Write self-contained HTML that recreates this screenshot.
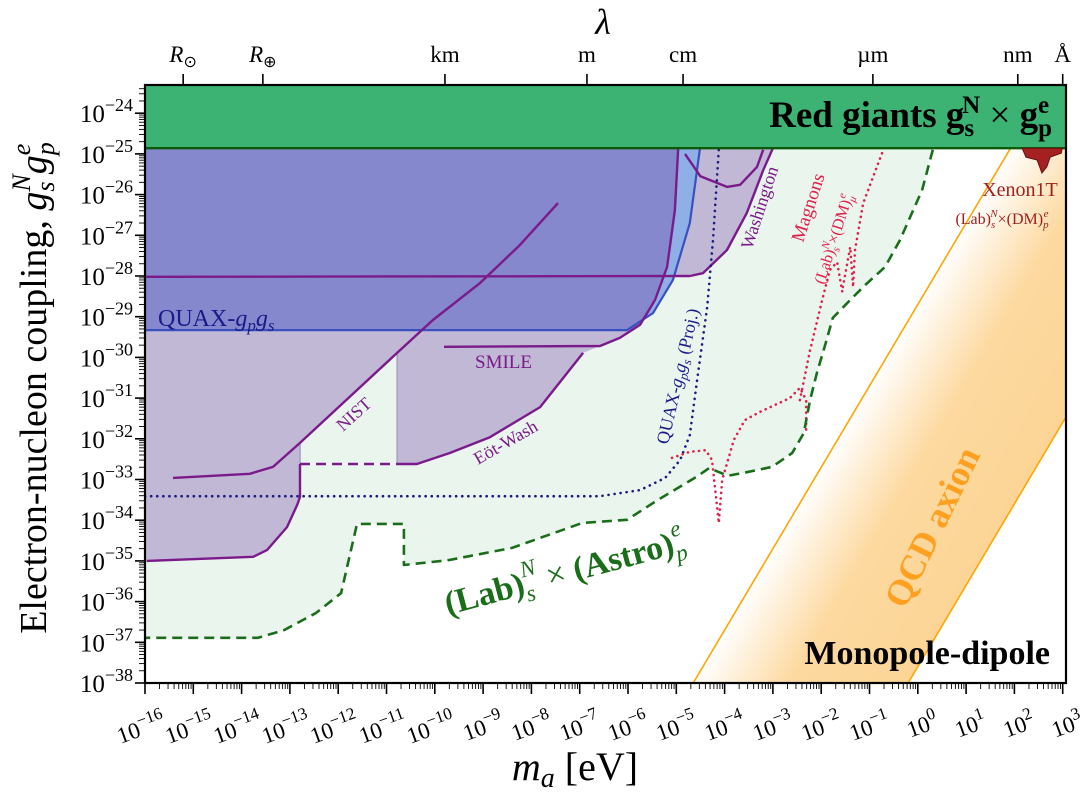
<!DOCTYPE html>
<html><head><meta charset="utf-8"><style>
html,body{margin:0;padding:0;background:#fff;}
svg{display:block;font-family:"Liberation Serif",serif;}
</style></head><body>
<svg id="chart" width="1081" height="797" viewBox="0 0 1081 797" xmlns="http://www.w3.org/2000/svg">
<defs>
<clipPath id="plotclip"><rect x="145" y="85" width="921" height="598"/></clipPath>
<linearGradient id="qcdgrad" gradientUnits="userSpaceOnUse" x1="693" y1="683" x2="852" y2="777">
<stop offset="0" stop-color="#fdd9a0" stop-opacity="0"/>
<stop offset="0.45" stop-color="#fdd9a0" stop-opacity="1"/>
<stop offset="1" stop-color="#fcd596" stop-opacity="1"/>
</linearGradient>
</defs>
<g id="plot" clip-path="url(#plotclip)"></g>
<g id="axes"></g>
<g id="labels"></g>
</svg>
<script>
// ---- data (log10 m_a [eV], log10 g) ----
const labAstro = [[0.31,-24.90],[0.09,-25.89],[-0.12,-26.45],[-0.37,-27.12],[-0.68,-27.78],[-1.09,-28.22],[-1.40,-28.59],[-1.76,-29.03],[-1.92,-29.70],[-2.09,-30.38],[-2.23,-31.05],[-2.36,-31.86],[-2.60,-32.35],[-3.02,-32.69],[-3.54,-32.82],[-3.93,-32.91],[-4.32,-32.72],[-4.59,-32.94],[-5.38,-33.50],[-6.02,-33.99],[-6.95,-34.07],[-8.40,-34.68],[-9.71,-34.98],[-10.64,-35.10],[-10.64,-34.09],[-11.61,-34.09],[-11.94,-35.79],[-12.46,-36.28],[-13.12,-36.70],[-13.66,-36.89],[-16,-36.89]];
const quaxRegion = [[-16,-24.86],[-4.51,-24.86],[-4.72,-26.70],[-5.07,-28.10],[-5.48,-28.91],[-6.02,-29.33],[-16,-29.33]];
const quaxOverlap = [[-16,-24.86],[-4.96,-24.86],[-5.03,-26.38],[-5.19,-27.78],[-5.44,-28.59],[-5.75,-29.20],[-5.90,-29.33],[-16,-29.33]];
const lavenderA = [[-16,-29.33],[-16,-35.03],[-13.76,-34.90],[-13.47,-34.73],[-13.06,-34.17],[-12.85,-33.63],[-12.79,-33.43],[-12.79,-32.10],[-10.78,-29.89],[-10.20,-29.33]];
const lavenderB = [[-10.20,-29.33],[-5.90,-29.33],[-5.75,-29.20],[-6.17,-29.52],[-6.58,-29.72],[-6.93,-29.89],[-7.82,-31.22],[-8.86,-31.96],[-9.69,-32.35],[-10.37,-32.62],[-10.78,-32.62],[-10.78,-29.89]];
const lavenderC = [[-4.96,-24.86],[-3.00,-24.86],[-3.20,-25.40],[-3.54,-26.45],[-3.95,-27.36],[-4.45,-27.93],[-5.23,-28.02],[-5.19,-27.78],[-5.03,-26.38]];
const nistLine = [[-15.42,-32.96],[-13.83,-32.86],[-13.35,-32.69],[-12.79,-32.10],[-10.78,-29.89],[-10.04,-29.08],[-9.06,-28.17],[-8.24,-27.24],[-7.45,-26.21]];
const bottomLeftLine = [[-15.96,-35.00],[-13.76,-34.90],[-13.47,-34.73],[-13.06,-34.17],[-12.85,-33.63],[-12.79,-33.43],[-12.79,-32.62]];
const dashedPurple = [[-12.79,-32.62],[-10.78,-32.62]];
const eotWash = [[-10.78,-32.62],[-10.37,-32.62],[-9.69,-32.35],[-8.86,-31.96],[-7.82,-31.22],[-6.93,-29.89]];
const smileLine = [[-9.81,-29.74],[-6.58,-29.72],[-6.17,-29.52],[-5.75,-29.20],[-5.44,-28.59],[-5.19,-27.78],[-5.03,-26.38],[-4.96,-24.86]];
const washingtonLine = [[-16,-28.02],[-4.72,-28.00],[-4.45,-27.93],[-3.95,-27.36],[-3.54,-26.45],[-3.20,-25.40],[-3.00,-24.86]];
const washingtonArc = [[-4.82,-25.00],[-4.50,-25.55],[-3.95,-25.81],[-3.68,-25.76],[-3.33,-25.32],[-3.20,-24.90]];
const quaxProj = [[-16,-33.41],[-6.58,-33.41],[-5.75,-33.26],[-5.23,-32.96],[-4.92,-32.52],[-4.72,-31.91],[-4.57,-30.56],[-4.36,-28.76],[-4.24,-27.12],[-4.12,-24.90]];
const magnon1 = [[-5.09,-32.47],[-4.72,-32.32],[-4.39,-32.28],[-4.26,-32.52],[-4.12,-34.07],[-4.05,-33.01],[-3.81,-32.03],[-3.58,-31.54],[-3.27,-31.34],[-2.65,-31.00],[-2.44,-30.75],[-2.31,-31.05],[-2.31,-31.86]];
const magnon2 = [[-2.44,-31.05],[-2.23,-29.82],[-1.98,-28.59],[-1.82,-27.85],[-1.67,-27.66],[-1.55,-28.47]];
const magnon3 = [[-1.55,-28.27],[-1.40,-27.29],[-1.34,-28.27],[-1.30,-27.36],[-1.13,-26.21],[-0.74,-24.98]];
const xenon = [[2.16,-24.86],[2.24,-25.08],[2.47,-25.15],[2.57,-25.47],[2.67,-25.32],[2.74,-25.08],[2.97,-24.98],[2.99,-24.86]];
const redGiantLimit = -24.86;
const qcdSlope = 2;
const qcdIntercepts = [-28.7, -37.6];
const xTickExps = [-16,-15,-14,-13,-12,-11,-10,-9,-8,-7,-6,-5,-4,-3,-2,-1,0,1,2,3];
const yTickExps = [-38,-37,-36,-35,-34,-33,-32,-31,-30,-29,-28,-27,-26,-25,-24];
const lambdaLabels = ["R⊙","R⊕","km","m","cm","µm","nm","Å"];
const lambdaLogMass = [-15.21,-13.56,-9.79,-6.85,-4.86,-0.93,2.07,3.0];

// ---- scales ----
const X0=145,X1=1066,Y0=683,YT=85;
function X(l){return 145+(l+16)*48.3;}
function Y(l){return 683-(l+38)*40.7;}
function lmOfX(x){return (x-145)/48.3-16;}
function lgOfY(y){return (683-y)/40.7-38;}
const NS="http://www.w3.org/2000/svg";
function mk(tag,attrs,parent){const e=document.createElementNS(NS,tag);for(const k in attrs)e.setAttribute(k,attrs[k]);parent.appendChild(e);return e;}
function pts(arr){return arr.map(p=>X(p[0]).toFixed(1)+","+Y(p[1]).toFixed(1)).join(" ");}
const plot=document.getElementById("plot"),axes=document.getElementById("axes");
const topL=lgOfY(YT-5);

let e;
e=mk("polygon",{points:pts([[-16,topL],[labAstro[0][0],topL]].concat(labAstro)),fill:"#eaf5ee"},plot);



{
  const lRight=lmOfX(X1);
  const a=qcdIntercepts[0], b=qcdIntercepts[1];
  const l1bot=(-38-a)/qcdSlope, l1top=(redGiantLimit-a)/qcdSlope;
  const l2bot=(-38-b)/qcdSlope, l2right=qcdSlope*lRight+b;
  e=mk("polygon",{points:pts([[l1bot,-38],[l1top,redGiantLimit],[lRight,redGiantLimit],[lRight,l2right],[l2bot,-38]]),fill:"url(#qcdgrad)"},plot);
  
  
  for(let i=0;i<qcdIntercepts.length;i++){
    const c=qcdIntercepts[i];
    const lb=(-38-c)/qcdSlope, lt=(redGiantLimit-c)/qcdSlope;
    e=mk("line",{x1:X(lb),y1:Y(-38),x2:X(lt),y2:Y(redGiantLimit),stroke:"#ffa500","stroke-width":1.6},plot);
    
    
  }
}

for(const reg of [lavenderA,lavenderB,lavenderC]){
  e=mk("polygon",{points:pts(reg),fill:"#c0b8d4"},plot);
  
  
}
e=mk("polygon",{points:pts(quaxRegion),fill:"#8fb0e6"},plot);


e=mk("polygon",{points:pts(quaxOverlap),fill:"#8588cc"},plot);


e=mk("polyline",{points:pts(quaxRegion.slice(1,7)),fill:"none",stroke:"#3a4fc0","stroke-width":2.2},plot);



e=mk("line",{x1:X(-12.79),y1:Y(-32.10),x2:X(-12.79),y2:Y(-33.43),stroke:"#a99ccb","stroke-width":1.5},plot);


e=mk("line",{x1:X(-10.78),y1:Y(-29.89),x2:X(-10.78),y2:Y(-32.62),stroke:"#a99ccb","stroke-width":1.5},plot);



function line(arr,stroke,w,dash){
  const el=mk("polyline",{points:pts(arr),fill:"none",stroke:stroke,"stroke-width":w,"stroke-linejoin":"round"},plot);
  if(dash){el.setAttribute("stroke-dasharray",dash);el.setAttribute("stroke-linecap",dash.startsWith("0")?"round":"butt");}
  return el;
}
const PUR="#7b1a8a";
e=line(nistLine,PUR,2.4);


e=line(bottomLeftLine,PUR,2.4);


e=line(dashedPurple,PUR,2.4,"10 6");


e=line(eotWash,PUR,2.4);


e=line(smileLine,PUR,2.4);


e=line(washingtonLine,PUR,2.4);


e=line(washingtonArc,PUR,2.4);


e=line(quaxProj,"#1a1a80",2.6,"0.1 6");


for(const m of [magnon1,magnon2,magnon3]){
  e=line(m,"#e0204a",2.6,"0.1 5.5");
  
  
}
e=line(labAstro,"#1a6e1a",2.6,"10 6");



e=mk("rect",{x:X0,y:YT-5,width:X1-X0,height:Y(redGiantLimit)-YT+5,fill:"#3db373"},plot);


e=mk("line",{x1:X0,y1:Y(redGiantLimit),x2:X1,y2:Y(redGiantLimit),stroke:"#0a5a0a","stroke-width":2.4},plot);


e=mk("polygon",{points:pts(xenon),fill:"#a52020",stroke:"#6a1010","stroke-width":1},plot);



// ---- axes ----
e=mk("rect",{x:X0,y:YT,width:X1-X0,height:Y0-YT,fill:"none",stroke:"#000","stroke-width":2.2},axes);


const lg2=[2,3,4,5,6,7,8,9].map(k=>Math.log10(k));
for(const d of xTickExps){
  e=mk("line",{x1:X(d),y1:Y0,x2:X(d),y2:Y0+11,stroke:"#000","stroke-width":1.6},axes);
  
  
  if(d<xTickExps[xTickExps.length-1]) for(const f of lg2){
    e=mk("line",{x1:X(d+f),y1:Y0,x2:X(d+f),y2:Y0+6,stroke:"#000","stroke-width":0.9},axes);
    
    
  }
  const t=mk("text",{x:X(d)+22,y:Y0+44,"text-anchor":"end","font-size":23,transform:`rotate(-20 ${X(d)+22} ${Y0+44})`},axes);
  
  
  t.innerHTML=`10<tspan dy="-10" font-size="17">${d<0?"−"+(-d):d}</tspan>`;
}
for(let d=-38; d<=-24; d++){
  e=mk("line",{x1:X0-10,y1:Y(d),x2:X0,y2:Y(d),stroke:"#000","stroke-width":1.6},axes);
  
  
  for(const f of lg2){
    const yy=Y(d+f); if(yy<YT) continue;
    e=mk("line",{x1:X0-6,y1:yy,x2:X0,y2:yy,stroke:"#000","stroke-width":0.9},axes);
    
    
  }
}
for(const d of yTickExps){
  const t=mk("text",{x:X0-12,y:Y(d)+9,"text-anchor":"end","font-size":25},axes);
  
  
  t.innerHTML=`10<tspan dy="-11" font-size="18">−${-d}</tspan>`;
}
for(let i=0;i<lambdaLabels.length;i++){
  const x=X(lambdaLogMass[i]);
  e=mk("line",{x1:x,y1:YT,x2:x,y2:YT-11,stroke:"#000","stroke-width":1.6},axes);
  
  
  const s=lambdaLabels[i];
  const t=mk("text",{x:x,y:YT-23,"text-anchor":"middle","font-size":23},axes);
  
  
  if(s[0]==="R") t.innerHTML=`<tspan font-style="italic">R</tspan><tspan dy="5" font-size="16">${s[1]}</tspan>`;
  else t.textContent=s;
}
</script>
<script>
const L=document.getElementById("labels");
L.innerHTML=`
<text x="603" y="34" font-size="36" font-style="italic" text-anchor="middle">λ</text>
<text x="575" y="780" font-size="40" text-anchor="middle"><tspan font-style="italic">m</tspan><tspan font-style="italic" font-size="28" dy="7">a</tspan><tspan dy="-7"> [eV]</tspan></text>
<text transform="translate(46 388) rotate(-90)" font-size="38" text-anchor="middle">Electron-nucleon coupling, <tspan font-style="italic">g</tspan><tspan font-style="italic" font-size="26" dy="8">s</tspan><tspan font-style="italic" font-size="26" dy="-24" dx="-10">N</tspan><tspan font-style="italic" dy="16">g</tspan><tspan font-style="italic" font-size="26" dy="8">p</tspan><tspan font-style="italic" font-size="26" dy="-24" dx="-13">e</tspan></text>
<text x="1052" y="127" font-size="37" font-weight="bold" text-anchor="end">Red giants g<tspan font-size="25" dy="9">s</tspan><tspan font-size="25" dy="-23" dx="-12">N</tspan><tspan dy="14" font-weight="normal"> × </tspan>g<tspan font-size="25" dy="9">p</tspan><tspan font-size="25" dy="-23" dx="-14">e</tspan></text>
<text x="158" y="326" font-size="24" fill="#1a1a8a">QUAX-<tspan font-style="italic">g</tspan><tspan font-style="italic" font-size="17" dy="5">p</tspan><tspan font-style="italic" dy="-5">g</tspan><tspan font-style="italic" font-size="17" dy="5">s</tspan></text>
<text x="475" y="368" font-size="19" fill="#7b1a8a">SMILE</text>
<text transform="translate(343 432) rotate(-42)" font-size="18" fill="#7b1a8a">NIST</text>
<text transform="translate(478 465) rotate(-30)" font-size="18" fill="#7b1a8a">Eöt-Wash</text>
<text transform="translate(752 250) rotate(-72)" font-size="18" fill="#7b1a8a">Washington</text>
<text transform="translate(668 445) rotate(-77)" font-size="18" fill="#1a1a8a">QUAX-<tspan font-style="italic">g</tspan><tspan font-style="italic" font-size="13" dy="4">p</tspan><tspan font-style="italic" dy="-4">g</tspan><tspan font-style="italic" font-size="13" dy="4">s</tspan><tspan dy="-4"> (Proj.)</tspan></text>
<text transform="translate(803 243) rotate(-72)" font-size="19" fill="#e0204a">Magnons</text>
<text transform="translate(824 285) rotate(-72)" font-size="16" fill="#e0204a">(Lab)<tspan font-style="italic" font-size="11" dy="4">s</tspan><tspan font-style="italic" font-size="11" dy="-11" dx="-5">N</tspan><tspan dy="7">×(DM)</tspan><tspan font-style="italic" font-size="11" dy="4">μ</tspan><tspan font-style="italic" font-size="11" dy="-11" dx="-5">e</tspan></text>
<text x="1020" y="196" font-size="20" fill="#a01f1f" text-anchor="middle">Xenon1T</text>
<text x="1002" y="224" font-size="16" fill="#a01f1f" text-anchor="middle">(Lab)<tspan font-style="italic" font-size="11" dy="4">s</tspan><tspan font-style="italic" font-size="11" dy="-11" dx="-5">N</tspan><tspan dy="7">×(DM)</tspan><tspan font-style="italic" font-size="11" dy="4">p</tspan><tspan font-style="italic" font-size="11" dy="-11" dx="-5">e</tspan></text>
<text transform="translate(905 610) rotate(-64)" font-size="36" font-weight="bold" fill="#ffa020">QCD axion</text>
<text transform="translate(448 615) rotate(-15)" font-size="34" font-weight="bold" fill="#1a6e1a">(Lab)<tspan font-style="italic" font-weight="normal" font-size="23" dy="8">s</tspan><tspan font-style="italic" font-weight="normal" font-size="23" dy="-25" dx="-9">N</tspan><tspan font-weight="normal" dy="17"> × </tspan>(Astro)<tspan font-style="italic" font-weight="normal" font-size="23" dy="8">p</tspan><tspan font-style="italic" font-weight="normal" font-size="23" dy="-25" dx="-11">e</tspan></text>
<text x="1050" y="664" font-size="34" font-weight="bold" text-anchor="end">Monopole-dipole</text>
`;
</script>
</body></html>
